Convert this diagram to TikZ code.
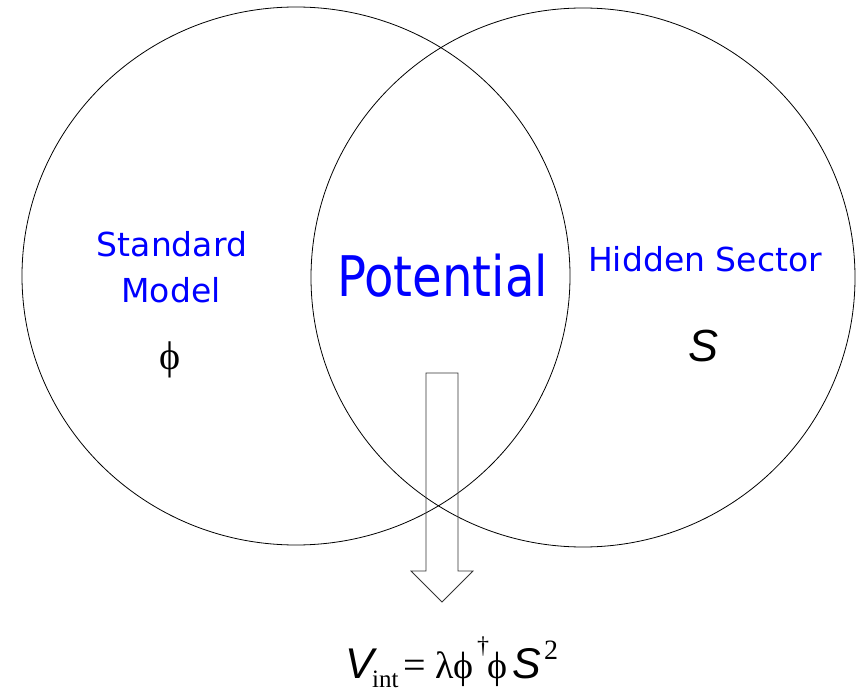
\documentclass[tikz,border=0pt]{standalone}
\usepackage{fontspec}
\setmainfont{Liberation Serif}
\newfontfamily\labelfont{DejaVu Sans}
\newfontfamily\arialfont{Liberation Sans}
\definecolor{labelblue}{RGB}{0,0,255}
\begin{document}
\begin{tikzpicture}[x=1pt,y=-1pt,
  ring/.style={draw=black, line width=0.8pt},
  lbl/.style={text=labelblue, font=\labelfont\fontsize{33}{36}\selectfont, inner sep=0pt},
  sym/.style={text=black, inner sep=0pt, anchor=base west},
  itsym/.style={sym, font=\arialfont\itshape\fontsize{43}{46}\selectfont},
  rmsym/.style={sym, font=\fontsize{40}{44}\selectfont},
  smallsym/.style={sym, font=\fontsize{25}{28}\selectfont}]
\useasboundingbox (0,0) rectangle (856,692);
% circles
\draw[ring] (296,276) ellipse [x radius=274, y radius=269];
\draw[ring] (583,277.5) ellipse [x radius=272, y radius=269.5];
% labels
\node[lbl, anchor=base] (sm1) at (172,257) {Standard};
\node[lbl, anchor=base] (sm2) at (171,303) {Model};
\node[lbl, anchor=base, font=\labelfont\fontsize{56}{60}\selectfont] (pot) at (442.5,297) {\scalebox{0.86}[1]{Potential}};
\node[lbl, anchor=base] (hs) at (705,272) {Hidden Sector};
\node[text=black, inner sep=0pt, font=\fontsize{40}{44}\selectfont] (phi) at (170.5,360) {ϕ};
\node[text=black, inner sep=0pt, font=\arialfont\itshape\fontsize{45}{50}\selectfont] (s) at (703.5,346) {S};
% arrow
\coordinate (a1) at (426,373);
\coordinate (a2) at (458,373);
\coordinate (a3) at (458,571);
\coordinate (a4) at (473,571);
\coordinate (tip) at (442,602);
\coordinate (a6) at (411,571);
\coordinate (a7) at (426,571);
\draw[line width=0.8pt, draw=black!80, line join=miter] (a1) -- (a2) -- (a3) -- (a4) -- (tip) -- (a6) -- (a7) -- cycle;
% formula
\node[itsym] (fv) at (345,678) {V};
\node[smallsym] (fint) at (372,687) {int};
\node[rmsym] (feq) at (403,678) {=};
\node[rmsym, font=\fontsize{38}{42}\selectfont] (flam) at (435,678) {λ};
\node[rmsym, font=\fontsize{38}{42}\selectfont] (fphi1) at (453,678) {ϕ};
\node[smallsym, font=\fontsize{24}{28}\selectfont] (fdag) at (477,653) {†};
\node[rmsym, font=\fontsize{38}{42}\selectfont] (fphi2) at (487,678) {ϕ};
\node[itsym] (fs) at (512,678) {S};
\node[smallsym, font=\fontsize{28}{32}\selectfont] (fsq) at (544,659) {2};
\end{tikzpicture}
\end{document}
